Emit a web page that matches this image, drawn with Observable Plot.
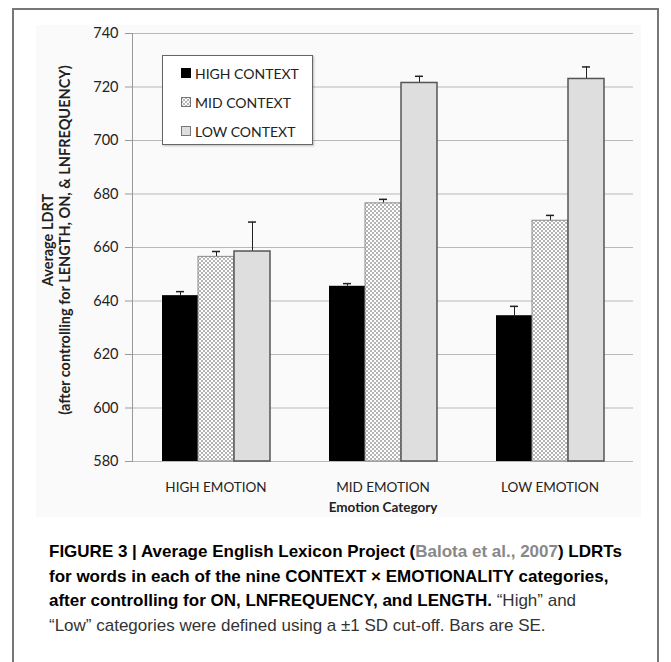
<!DOCTYPE html>
<html>
<head>
<meta charset="utf-8">
<script src="https://cdn.jsdelivr.net/npm/d3@7"></script>
<script src="https://cdn.jsdelivr.net/npm/@observablehq/plot@0.6"></script>
<style>
  html, body { margin: 0; padding: 0; background: #fff; }
  #figure { position: relative; width: 671px; height: 662px; overflow: hidden; background: #fff; }
  #border { position: absolute; left: 12px; top: 8px; width: 647px; height: 700px;
            border: 2px solid #777; border-bottom: none; box-sizing: border-box; }
  #panel { position: absolute; left: 36px; top: 25px; width: 605px; height: 492px; background: #fafafa; }
  #chart { position: absolute; left: 0; top: 0; }
  #chart svg { font-family: Lato, "Open Sans", sans-serif; background: transparent; }
  #chart g[aria-label="fx-axis label"] text { font-weight: bold; }
  #ytitle { position: absolute; left: 56px; top: 240px; width: 460px;
            transform: translate(-50%, -50%) rotate(-90deg);
            font: bold 14.5px/17px Lato, sans-serif; color: #222; text-align: center; white-space: nowrap; }
  #legend { position: absolute; left: 162px; top: 55px; width: 151px; height: 90px;
            box-sizing: border-box; border: 1px solid #666; background: #fff;
            box-shadow: 1px 1px 2px rgba(0,0,0,0.25);
            font: 14px Lato, sans-serif; color: #222; }
  #legend .item { position: absolute; left: 18px; display: flex; align-items: center; height: 16px; }
  #legend svg { margin-right: 4px; }
  #caption { position: absolute; left: 49px; top: 540px; width: 610px;
             font: 17px/24.5px "Liberation Sans Narrow", "Liberation Sans", sans-serif; color: #333; }
  #caption .line { white-space: nowrap; }
  #caption b { color: #000; }
  #caption .ref { color: #888; }
</style>
</head>
<body>
<svg width="0" height="0" style="position:absolute">
  <defs>
    <pattern id="dots" width="4" height="4" patternUnits="userSpaceOnUse">
      <rect width="4" height="4" fill="#fff"/>
      <rect x="0" y="0" width="2" height="2" fill="#b4b4b4"/>
      <rect x="2" y="2" width="2" height="2" fill="#b4b4b4"/>
    </pattern>
  </defs>
</svg>
<div id="figure">
  <div id="border"></div>
  <div id="panel"></div>
  <div id="chart"></div>
  <div id="ytitle">Average LDRT<br>(after controlling for LENGTH, ON, &amp; LNFREQUENCY)</div>
  <div id="legend"></div>
  <div id="caption">
    <div class="line"><b>FIGURE 3 | Average English Lexicon Project (<span class="ref">Balota et al., 2007</span>) LDRTs</b></div>
    <div class="line"><b>for words in each of the nine CONTEXT × EMOTIONALITY categories,</b></div>
    <div class="line"><b>after controlling for ON, LNFREQUENCY, and LENGTH.</b> “High” and</div>
    <div class="line">“Low” categories were defined using a ±1 SD cut-off. Bars are SE.</div>
  </div>
</div>
<script>
// Emotion categories (groups) and context levels (bars within each group)
const emotions = ["HIGH EMOTION", "MID EMOTION", "LOW EMOTION"];
const contexts = ["HIGH CONTEXT", "MID CONTEXT", "LOW CONTEXT"];

// Mean LDRT per emotion category, one array per context level
const highContext = [642, 645.5, 634.5];
const midContext = [656.5, 676.5, 670];
const lowContext = [658.5, 721.5, 723];

// Standard errors, same layout
const highContextSE = [1.5, 1, 3.5];
const midContextSE = [2, 1.5, 2];
const lowContextSE = [11, 2.5, 4.5];

const yTicks = [580, 600, 620, 640, 660, 680, 700, 720, 740];

const contextFills = ["#000", "url(#dots)", "#dedede"];
const contextStrokes = ["none", "#8a8a8a", "#555"];

const means = [highContext, midContext, lowContext];
const ses = [highContextSE, midContextSE, lowContextSE];
const rows = [];
emotions.forEach((emotion, i) => {
  contexts.forEach((context, j) => {
    rows.push({emotion, context, value: means[j][i], se: ses[j][i]});
  });
});

const barMarks = contexts.map((c, j) =>
  Plot.barY(rows.filter(d => d.context === c), {
    fx: "emotion", x: "context", y1: 580, y2: "value",
    fill: contextFills[j], stroke: contextStrokes[j], strokeWidth: j === 2 ? 1.5 : 1
  })
);

const chart = Plot.plot({
  width: 671,
  height: 525,
  marginLeft: 131,
  marginRight: 38,
  marginTop: 33,
  marginBottom: 64,
  style: {background: "transparent"},
  fx: {domain: emotions, padding: 0, label: null},
  x: {domain: contexts, paddingInner: 0, paddingOuter: 0.76, axis: null},
  y: {domain: [580, 740], axis: null},
  marks: [
    Plot.gridY(yTicks, {stroke: "#b8b8b8", strokeOpacity: 1, strokeWidth: 1}),
    Plot.frame({anchor: "left", facetAnchor: "left", stroke: "#999"}),
    Plot.axisY({ticks: yTicks, tickSize: 7, tickPadding: 7, fontSize: 14.5, stroke: "#999", fill: "#222", label: null}),
    Plot.axisFx({anchor: "bottom", tickSize: 0, tickPadding: 21, fontSize: 13.5, fill: "#222",
                 label: "Emotion Category", labelAnchor: "center", labelOffset: 50}),
    Plot.ruleX(rows, {fx: "emotion", x: "context", y1: "value", y2: d => d.value + d.se, stroke: "#222"}),
    Plot.tickY(rows, {fx: "emotion", x: "context", y: d => d.value + d.se, insetLeft: 14, insetRight: 14, stroke: "#222", strokeWidth: 1.5}),
    ...barMarks
  ]
});
document.getElementById("chart").appendChild(chart);

// Legend
const legend = document.getElementById("legend");
contexts.forEach((c, j) => {
  const item = document.createElement("div");
  item.className = "item";
  item.style.top = (9 + j * 29) + "px";
  item.innerHTML = `<svg width="10" height="10"><rect x="0.5" y="0.5" width="9" height="9" fill="${contextFills[j]}" stroke="${j === 0 ? '#000' : '#777'}"/></svg><span>${c}</span>`;
  legend.appendChild(item);
});
</script>
</body>
</html>
